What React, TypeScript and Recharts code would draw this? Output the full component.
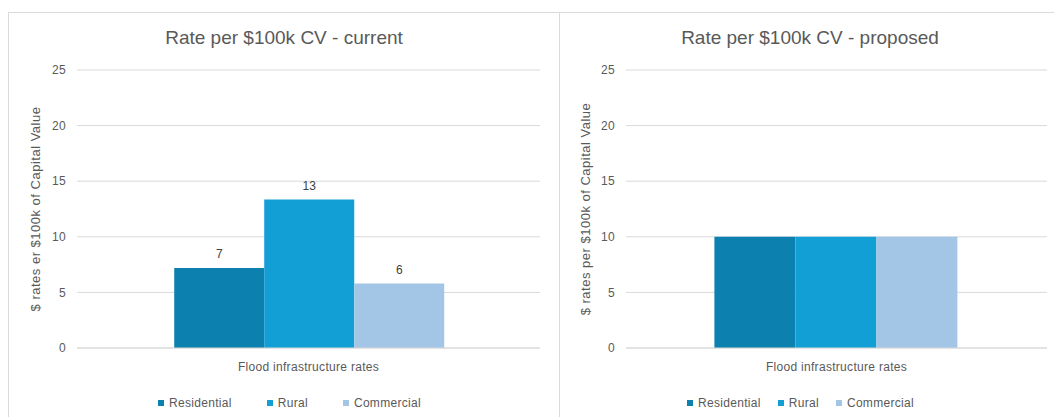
import { Bar, BarChart, CartesianGrid, LabelList, Legend, XAxis, YAxis } from "recharts";

const categories = ["Flood infrastructure rates"];
const seriesNames = ["Residential", "Rural", "Commercial"];
const currentRates = [7.2, 13.35, 5.8];
const proposedRates = [10, 10, 10];
const yTicks = [0, 5, 10, 15, 20, 25];

const seriesColors = ["#0c80ae", "#129fd6", "#a3c6e6"];
const FONT = '"Liberation Sans", Arial, sans-serif';
const TEXT = "#595959";
const GRID = "#d9d9d9";

function toRows(values: number[]) {
  return categories.map((category) => {
    const row: Record<string, string | number> = { category };
    seriesNames.forEach((name, i) => {
      row[name] = values[i];
    });
    return row;
  });
}

// legend keeps series order (Recharts sorts its payload by name)
function LegendRow({ gap, shift }: { gap: number; shift: number }) {
  return (
    <div
      style={{
        display: "flex",
        justifyContent: "center",
        alignItems: "center",
        gap,
        height: 20,
        transform: `translateX(${shift}px)`,
        fontFamily: FONT,
        fontSize: 12,
        letterSpacing: 0.3,
        color: TEXT,
      }}
    >
      {seriesNames.map((name, i) => (
        <div key={name} style={{ display: "flex", alignItems: "center" }}>
          <span style={{ width: 6, height: 6, background: seriesColors[i], marginRight: 5 }} />
          <span>{name}</span>
        </div>
      ))}
    </div>
  );
}

type RateChartProps = {
  title: string;
  yLabel: string;
  values: number[];
  width: number;
  axisWidth: number;
  rightMargin: number;
  labelOffset: number;
  legendGap: number;
  legendShift: number;
  showValues: boolean;
};

function RateChart(p: RateChartProps) {
  const small = { fill: TEXT, fontSize: 12, fontFamily: FONT, letterSpacing: 0.3 };
  return (
    <div style={{ position: "relative", width: p.width, height: 404 }}>
      <div
        style={{
          position: "absolute",
          top: 13,
          left: 0,
          width: p.width,
          textAlign: "center",
          lineHeight: "24px",
          fontFamily: FONT,
          fontSize: 19,
          color: TEXT,
        }}
      >
        {p.title}
      </div>
      <BarChart
        width={p.width}
        height={404}
        data={toRows(p.values)}
        margin={{ top: 57, right: p.rightMargin, left: 0, bottom: 4 }}
        barCategoryGap="21%"
        barGap={0}
      >
        <CartesianGrid vertical={false} stroke={GRID} />
        <XAxis
          dataKey="category"
          height={45}
          axisLine={{ stroke: GRID }}
          tickLine={false}
          tickMargin={8}
          tick={small}
        />
        <YAxis
          domain={[0, 25]}
          ticks={yTicks}
          width={p.axisWidth}
          axisLine={false}
          tickLine={false}
          tickMargin={5}
          tick={small}
          label={{
            value: p.yLabel,
            angle: -90,
            position: "insideLeft",
            offset: p.labelOffset,
            fill: TEXT,
            fontSize: 13,
            fontFamily: FONT,
            style: { textAnchor: "middle", letterSpacing: 0.5 },
          }}
        />
        <Legend verticalAlign="bottom" content={() => <LegendRow gap={p.legendGap} shift={p.legendShift} />} />
        {seriesNames.map((name, i) => (
          <Bar key={name} dataKey={name} fill={seriesColors[i]} isAnimationActive={false}>
            {p.showValues && (
              <LabelList
                dataKey={name}
                position="top"
                offset={10}
                formatter={(v: unknown) => Math.round(Number(v))}
                style={{ fill: "#404040", fontSize: 12, fontFamily: FONT }}
              />
            )}
          </Bar>
        ))}
      </BarChart>
    </div>
  );
}

export default function App() {
  return (
    <div style={{ position: "relative", width: 1054, height: 417, overflow: "hidden", background: "#fff" }}>
      <style>{"body{margin:0;overflow:hidden}"}</style>
      <div
        style={{
          position: "absolute",
          left: 8,
          top: 12,
          width: 550,
          height: 420,
          borderTop: `1px solid ${GRID}`,
          borderLeft: `1px solid ${GRID}`,
          borderRight: `1px solid ${GRID}`,
        }}
      >
        <RateChart
          title="Rate per $100k CV - current"
          yLabel="$ rates er $100k of Capital Value"
          values={currentRates}
          width={550}
          axisWidth={68}
          rightMargin={19}
          labelOffset={26}
          legendGap={35}
          legendShift={15}
          showValues
        />
      </div>
      <div
        style={{
          position: "absolute",
          left: 560,
          top: 12,
          width: 500,
          height: 420,
          borderTop: `1px solid ${GRID}`,
        }}
      >
        <RateChart
          title="Rate per $100k CV - proposed"
          yLabel="$ rates per $100k of Capital Value"
          values={proposedRates}
          width={500}
          axisWidth={66}
          rightMargin={13}
          labelOffset={25}
          legendGap={17}
          legendShift={-3}
          showValues={false}
        />
      </div>
    </div>
  );
}
